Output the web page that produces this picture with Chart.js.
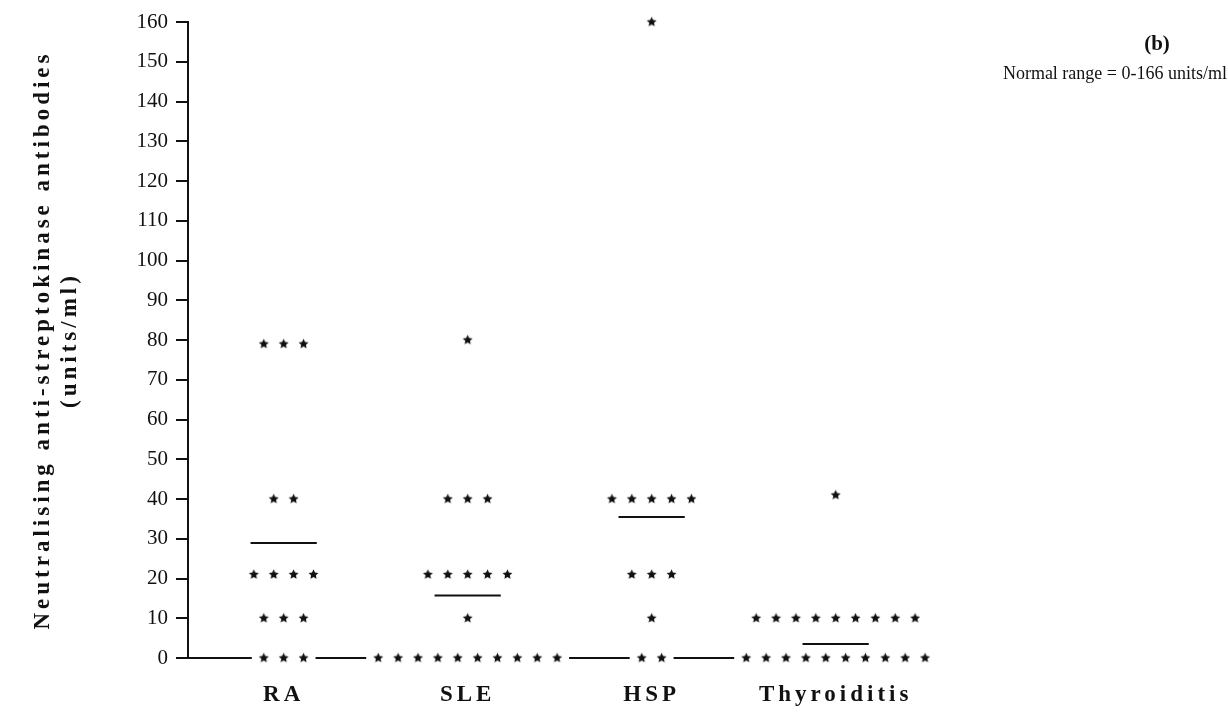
<!DOCTYPE html>
<html>
<head>
<meta charset="utf-8">
<title>Neutralising anti-streptokinase antibodies</title>
<script src="https://cdn.jsdelivr.net/npm/chart.js@4.4.1/dist/chart.umd.min.js"></script>
<style>
  html, body { margin: 0; padding: 0; background: #fff; }
  #_canvasp { width: 1228px; height: 716px; }
</style>
</head>
<body>
<div id="_canvasp"><canvas id="_canvasc"></canvas></div>
<script>
	// ******************************************************** DATA
	var groups     = [ "RA", "SLE", "HSP", "Thyroiditis" ];
	var raValues   = [ 79, 79, 79, 40, 40, 21, 21, 21, 21, 10, 10, 10, 0, 0, 0 ];
	var sleValues  = [ 80, 40, 40, 40, 21, 21, 21, 21, 21, 10, 0, 0, 0, 0, 0, 0, 0, 0, 0, 0 ];
	var hspValues  = [ 160, 40, 40, 40, 40, 40, 21, 21, 21, 10, 0, 0 ];
	var thyValues  = [ 41, 10, 10, 10, 10, 10, 10, 10, 10, 10, 0, 0, 0, 0, 0, 0, 0, 0, 0, 0 ];
	var meanValues = [ 28.9, 15.7, 35.5, 3.5 ];
	var yMin = 0, yMax = 160, yStep = 10;

	var SERIF     = "'Liberation Serif', 'Times New Roman', serif";
	var STAR_GAP  = 0.108;   // spacing between stars of one row (x units)
	var MEAN_HALF = 0.18;    // half width of a mean bar

	// ******************************************************** POINTS
	var groupValues = [ raValues, sleValues, hspValues, thyValues ];
	var starPoints = [];
	groupValues.forEach(function (vals, gi) {
		var rows = {};
		vals.forEach(function (v) { (rows[v] = rows[v] || []).push(v); });
		Object.keys(rows).forEach(function (k) {
			var row = rows[k], n = row.length;
			row.forEach(function (v, i) {
				starPoints.push({ x: gi + (i - (n - 1) / 2) * STAR_GAP, y: v, g: gi });
			});
		});
	});

	function makeStar(r) {
		var c = document.createElement("canvas");
		var s = Math.ceil(r * 2) + 2;
		c.width = c.height = s;
		var x = c.getContext("2d");
		x.beginPath();
		for (var i = 0; i < 10; i++) {
			var rad = i % 2 ? r * 0.48 : r;
			var a = -Math.PI / 2 + i * Math.PI / 5;
			x.lineTo(s / 2 + rad * Math.cos(a), s / 2 + rad * Math.sin(a));
		}
		x.closePath();
		x.fillStyle = "#111";
		x.fill();
		return c;
	}
	var starImg = makeStar(5.2);

	var datasets = [{
		label: "patients",
		data: starPoints,
		pointStyle: starImg,
		pointRadius: 5,
		showLine: false,
		clip: false
	}];
	meanValues.forEach(function (m, gi) {
		datasets.push({
			label: groups[gi] + " mean",
			data: [ { x: gi - MEAN_HALF, y: m }, { x: gi + MEAN_HALF, y: m } ],
			showLine: true,
			borderColor: "#111",
			borderWidth: 2,
			pointRadius: 0
		});
	});

	// ******************************************************** PLUGINS
	// zero line, broken where the zero rows of stars sit
	var baseLine = {
		id: "baseLine",
		beforeDatasetsDraw: function (chart) {
			var ctx = chart.ctx, xs = chart.scales.x, ys = chart.scales.y;
			var y0 = ys.getPixelForValue(0);
			var start = chart.chartArea.left - 12;
			ctx.save();
			ctx.strokeStyle = "#111";
			ctx.lineWidth = 2;
			groups.forEach(function (g, gi) {
				var px = starPoints.filter(function (p) { return p.g === gi && p.y === 0; })
					.map(function (p) { return xs.getPixelForValue(p.x); });
				if (!px.length) return;
				var gapStart = Math.min.apply(null, px) - 12;
				ctx.beginPath();
				ctx.moveTo(start, y0);
				ctx.lineTo(gapStart, y0);
				ctx.stroke();
				start = Math.max.apply(null, px) + 12;
			});
			ctx.restore();
		}
	};

	var notes = {
		id: "notes",
		afterDraw: function (chart) {
			var ctx = chart.ctx;
			ctx.save();
			ctx.fillStyle = "#111";
			ctx.textBaseline = "middle";
			ctx.font = "bold 21px " + SERIF;
			ctx.textAlign = "center";
			ctx.fillText("(b)", 1157, 45);
			ctx.font = "18px " + SERIF;
			ctx.textAlign = "right";
			ctx.fillText("Normal range = 0-166 units/ml", 1227, 74);
			ctx.restore();
		}
	};

	function spaced(fn, gap) {
		return function () {
			this.ctx.save();
			this.ctx.letterSpacing = gap;
			fn.apply(this, arguments);
			this.ctx.restore();
		};
	}

	// ******************************************************** CHART
	var config = {
		type: "scatter",
		data: { datasets: datasets },
		plugins: [ baseLine, notes ],
		options: {
			responsive: false,
			animation: false,
			layout: { padding: { top: 22, right: 0, bottom: 0, left: 0 } },
			plugins: { legend: { display: false }, tooltip: { enabled: false } },
			scales: {
				x: {
					type: "linear",
					min: -0.52,
					max: 5.1,
					grid: { display: false, drawTicks: false },
					border: { display: false },
					afterBuildTicks: function (scale) {
						scale.ticks = groups.map(function (g, i) { return { value: i }; });
					},
					afterFit: function (scale) {
						scale.height = 58;
						if (!scale._spaced) {
							scale.drawLabels = spaced(scale.drawLabels, "4px");
							scale._spaced = true;
						}
					},
					ticks: {
						autoSkip: false,
						maxRotation: 0,
						padding: 23,
						color: "#111",
						font: { family: SERIF, size: 23, weight: "bold" },
						callback: function (v) { return groups[v]; }
					}
				},
				y: {
					min: yMin,
					max: yMax,
					grid: { drawOnChartArea: false, drawTicks: true, tickLength: 12, lineWidth: 2, color: "#111" },
					border: { display: true, color: "#111", width: 2 },
					afterFit: function (scale) {
						scale.width = 188;
						if (!scale._spaced) {
							scale.drawTitle = spaced(scale.drawTitle, "4px");
							scale._spaced = true;
						}
					},
					ticks: {
						stepSize: yStep,
						padding: 8,
						color: "#111",
						font: { family: SERIF, size: 21 }
					},
					title: {
						display: true,
						text: [ "Neutralising anti-streptokinase antibodies", "(units/ml)" ],
						color: "#111",
						padding: { top: 30, bottom: 0 },
						font: { family: SERIF, size: 23, weight: "bold", lineHeight: 1.15 }
					}
				}
			}
		}
	};

	var _canvasc = document.getElementById("_canvasc");
	_canvasc.width  = 1228;
	_canvasc.height = 716;
	var _ctxc = _canvasc.getContext("2d");

	window.myScatter = new Chart(_ctxc, config);
</script>
</body>
</html>
